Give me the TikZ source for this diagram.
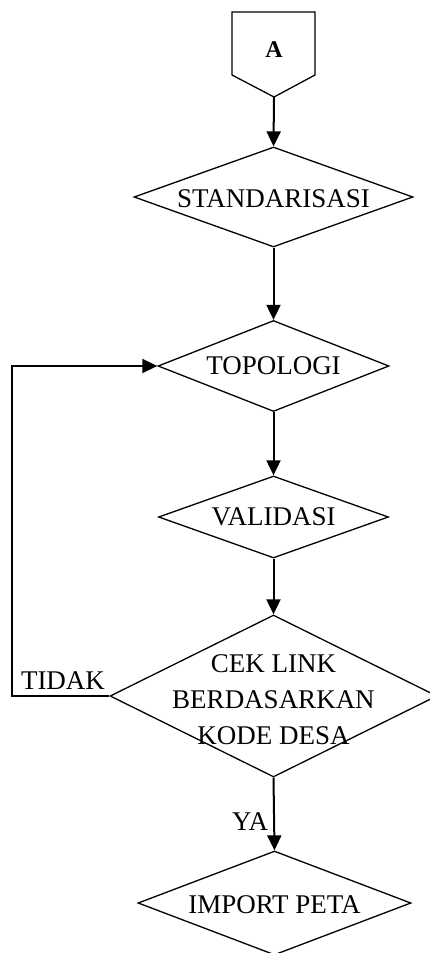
\documentclass[tikz,border=0pt]{standalone}
\usepackage{fontspec}
\setmainfont{Liberation Serif}
\usetikzlibrary{shapes.geometric,arrows.meta}
\begin{document}
\begin{tikzpicture}[x=1pt,y=-1pt,
  dia/.style={draw, shape=diamond, inner sep=0pt, line width=1.3pt},
  txt/.style={inner sep=0pt, font=\fontsize{27}{36}\selectfont, align=center},
  arr/.style={line width=2pt, -{Triangle[width=14pt,length=15pt]}},
  loop/.style={line width=1.5pt, -{Triangle[width=14pt,length=15pt]}}]
\useasboundingbox (0,0) rectangle (430,953);
% off-page connector
\draw[line width=1.3pt] (232,12) -- (315,12) -- (315,75) -- (274,97) -- (232,75) -- cycle;
\coordinate (Atip) at (274,97);
\node[inner sep=0pt, font=\fontsize{24}{28}\selectfont\bfseries] (A) at (274,50) {A};
% diamonds
\node[dia, minimum width=279pt, minimum height=100pt] (S) at (273.5,197) {};
\node[txt] (St) at (273.5,199) {STANDARISASI};
\node[dia, minimum width=231pt, minimum height=91pt] (T) at (273.5,366) {};
\node[txt] (Tt) at (273.5,366) {TOPOLOGI};
\node[dia, minimum width=230pt, minimum height=82pt] (V) at (273.5,517) {};
\node[txt] (Vt) at (273.5,517) {VALIDASI};
\node[dia, minimum width=327pt, minimum height=162pt] (C) at (273.5,696) {};
\node[txt] (Ct) at (273.5,700) {CEK LINK\\BERDASARKAN\\KODE DESA};
\node[dia, minimum width=273pt, minimum height=104pt] (I) at (274.5,903) {};
\node[txt] (It) at (274.5,905) {IMPORT PETA};
% connectors
\draw[arr] (Atip) -- (S.north);
\draw[arr] (S.south) -- (T.north);
\draw[arr] (T.south) -- (V.north);
\draw[arr] (V.south) -- (C.north);
\draw[arr] (C.south) -- (I.north);
\coordinate (L) at (12,696);
\draw[loop] (C.west) -- (L) |- (T.west);
% labels
\node[txt, anchor=center] (tidak) at (63,681) {TIDAK};
\node[txt, anchor=center] (ya) at (250,822) {YA};
\end{tikzpicture}
\end{document}
